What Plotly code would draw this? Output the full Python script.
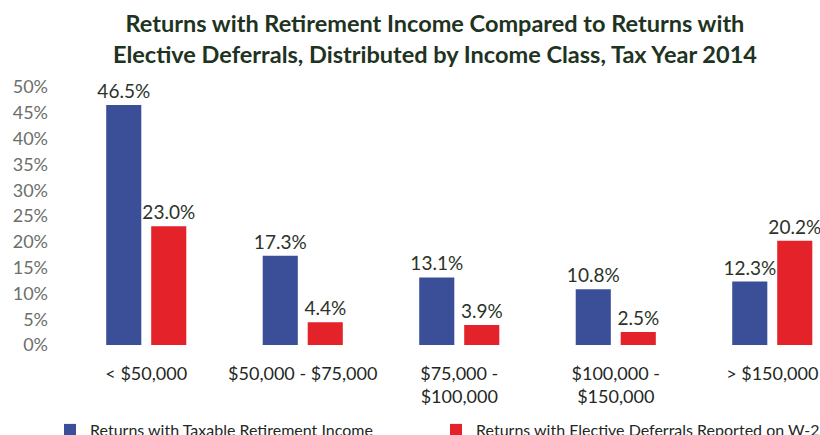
import plotly.graph_objects as go

# Income classes and the share of returns in each
categories = ["< $50,000", "$50,000 - $75,000", "$75,000 -<br>$100,000",
              "$100,000 -<br>$150,000", "> $150,000"]
retirement_income = [46.5, 17.3, 13.1, 10.8, 12.3]
elective_deferrals = [23.0, 4.4, 3.9, 2.5, 20.2]
series_names = ["Returns with Taxable Retirement Income",
                "Returns with Elective Deferrals Reported on W-2"]
y_ticks = [0, 5, 10, 15, 20, 25, 30, 35, 40, 45, 50]

FONT = "Lato"
BLUE = "#3a4f97"
RED = "#e3222a"
LABEL_COLOR = "#2b3328"

fig = go.Figure()
for name, vals, color, leg in [(series_names[0], retirement_income, BLUE, "legend"),
                               (series_names[1], elective_deferrals, RED, "legend2")]:
    fig.add_trace(go.Bar(
        x=list(range(len(categories))), y=vals, name=name, legend=leg,
        showlegend=True,
        marker=dict(color=color, line=dict(width=0)),
        text=[f"{v:.1f}%" for v in vals], textposition="outside",
        textfont=dict(family=FONT, size=19, color=LABEL_COLOR),
        constraintext="none", cliponaxis=False,
    ))

fig.add_annotation(
    text="<b>Returns with Retirement Income Compared to Returns with<br>"
         "Elective Deferrals, Distributed by Income Class, Tax Year 2014</b>",
    xref="paper", yref="paper", x=(435 - 68) / 752, xanchor="center",
    y=1 + 80 / 258, yanchor="top", showarrow=False,
    font=dict(family=FONT, size=23.5, color="#1e3321"),
)

legend_style = dict(
    orientation="h", xref="container", yref="container",
    xanchor="left", y=1 - 413 / 435, yanchor="top",
    font=dict(family=FONT, size=16, color="#22281f"),
    itemwidth=30, bgcolor="rgba(0,0,0,0)",
)

fig.update_layout(
    width=820, height=435, showlegend=True,
    margin=dict(l=68, r=0, t=87, b=90),
    paper_bgcolor="white", plot_bgcolor="white",
    barmode="group", bargap=0.425, bargroupgap=0.22,
    xaxis=dict(
        tickmode="array", tickvals=list(range(len(categories))), ticktext=categories,
        range=[-0.5, 4.305], showgrid=False, showline=False, zeroline=False,
        ticks="", tickfont=dict(family=FONT, size=18, color="#22281f"),
        ticklabelstandoff=16,
    ),
    yaxis=dict(
        range=[0, 50], tickvals=y_ticks, ticktext=[f"{t}%" for t in y_ticks],
        showgrid=False, showline=False, zeroline=False, ticks="",
        tickfont=dict(family=FONT, size=18, color="#6b6f6a"),
        ticklabelstandoff=19,
    ),
    legend=dict(x=50 / 820, **legend_style),
    legend2=dict(x=436 / 820, **legend_style),
)

fig.write_html("out.html")
